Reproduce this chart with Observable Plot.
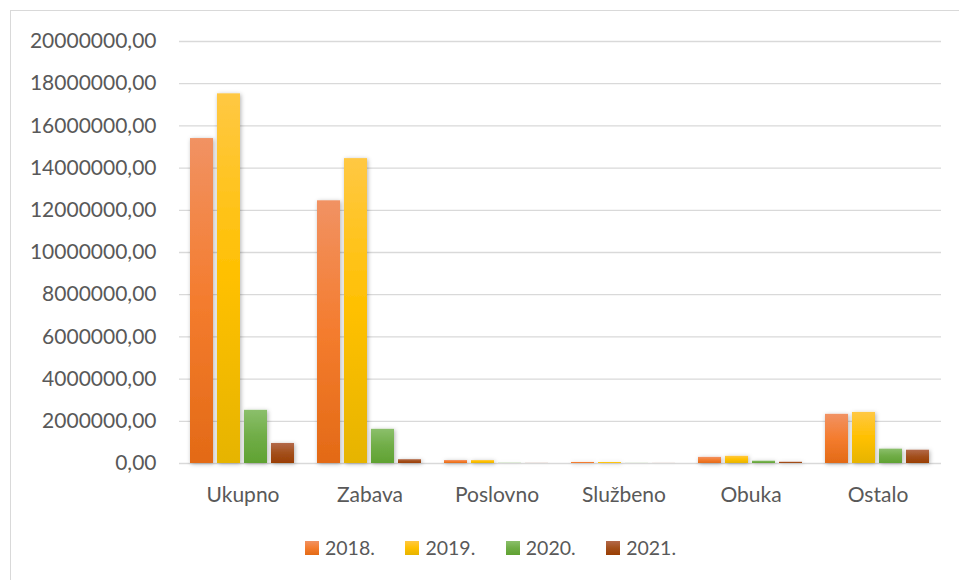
<!DOCTYPE html>
<html>
<head>
<meta charset="utf-8">
<script src="https://cdn.jsdelivr.net/npm/d3@7"></script>
<script src="https://cdn.jsdelivr.net/npm/@observablehq/plot@0.6"></script>
<style>
  html, body { margin: 0; padding: 0; background: #fff; }
  body { width: 959px; height: 580px; position: relative; overflow: hidden; font-family: Lato, "Open Sans", sans-serif; }
  #frame { position: absolute; left: 10px; top: 10px; width: 960px; height: 580px; border: 1px solid #d9d9d9; box-sizing: border-box; }
  #chart { position: absolute; left: 0; top: 0; }
  #legend { position: absolute; left: 305px; top: 541px; display: flex; }
  .item { width: 100.4px; display: flex; align-items: center; height: 14px; }
  .sw { width: 14px; height: 14px; margin-right: 6px; flex: none; }
  .lab { font-size: 19.5px; line-height: 1; color: #595959; white-space: nowrap; }
</style>
</head>
<body>
<div id="frame"></div>
<div id="chart"></div>
<div id="legend"></div>
<script>
const categories = ["Ukupno", "Zabava", "Poslovno", "Službeno", "Obuka", "Ostalo"];
const years = ["2018.", "2019.", "2020.", "2021."];
const v2018 = [15400000, 12450000, 140000, 50000, 290000, 2330000];
const v2019 = [17520000, 14450000, 140000, 45000, 340000, 2420000];
const v2020 = [2520000, 1620000, 10000, 5000, 110000, 680000];
const v2021 = [950000, 180000, 5000, 3000, 60000, 630000];
const yTicks = [0, 2000000, 4000000, 6000000, 8000000, 10000000, 12000000, 14000000, 16000000, 18000000, 20000000];

const seriesValues = [v2018, v2019, v2020, v2021];
const gradStops = [
  ["#F19263", "#F47C2E", "#E36A16"],
  ["#FFC843", "#FFC000", "#E6B400"],
  ["#8BBF6B", "#70AD47", "#60A232"],
  ["#B3694A", "#A3501C", "#9A3E04"]
];

const data = [];
categories.forEach((c, i) => {
  years.forEach((y, j) => {
    data.push({category: c, year: y, value: seriesValues[j][i]});
  });
});

const fmt = d => d.toFixed(2).replace(".", ",");

const chart = Plot.plot({
  width: 959,
  height: 520,
  marginLeft: 178,
  marginRight: 17,
  marginTop: 41,
  marginBottom: 57,
  style: {fontFamily: "Lato, 'Open Sans', sans-serif", fontSize: "21px", color: "#595959", background: "transparent"},
  fx: {domain: categories, padding: 0, label: null},
  x: {domain: years, paddingInner: 0.145, paddingOuter: 0.39, axis: null},
  y: {domain: [0, 20000000], label: null},
  color: {type: "ordinal", domain: years, range: years.map((y, j) => `url(#grad${j})`)},
  marks: [
    Plot.ruleY(yTicks, {stroke: "#d9d9d9", strokeWidth: 1.3}),
    Plot.barY(data, {fx: "category", x: "year", y: "value", fill: "year"}),
    Plot.axisY({ticks: yTicks, tickFormat: fmt, tickSize: 0, tickPadding: 23, label: null}),
    Plot.axisFx({anchor: "bottom", tickSize: 0, tickPadding: 24, label: null})
  ]
});

const svg = d3.select(chart);
const defs = svg.insert("defs", ":first-child");
gradStops.forEach((s, j) => {
  const g = defs.append("linearGradient").attr("id", `grad${j}`)
    .attr("x1", 0).attr("y1", 0).attr("x2", 0).attr("y2", 1);
  g.append("stop").attr("offset", "0%").attr("stop-color", s[0]);
  g.append("stop").attr("offset", "50%").attr("stop-color", s[1]);
  g.append("stop").attr("offset", "100%").attr("stop-color", s[2]);
});
const f = defs.append("filter").attr("id", "shadow").attr("x", "-30%").attr("y", "-10%").attr("width", "160%").attr("height", "120%");
f.append("feDropShadow").attr("dx", 1).attr("dy", 1).attr("stdDeviation", 2)
  .attr("flood-color", "#000").attr("flood-opacity", 0.3);
svg.selectAll("g[aria-label=bar]").attr("filter", "url(#shadow)");

document.getElementById("chart").appendChild(chart);

const legend = document.getElementById("legend");
years.forEach((y, j) => {
  const item = document.createElement("div");
  item.className = "item";
  const sw = document.createElement("div");
  sw.className = "sw";
  sw.style.background = `linear-gradient(${gradStops[j][0]}, ${gradStops[j][1]} 50%, ${gradStops[j][2]})`;
  const lab = document.createElement("span");
  lab.className = "lab";
  lab.textContent = y;
  item.appendChild(sw);
  item.appendChild(lab);
  legend.appendChild(item);
});
</script>
</body>
</html>
